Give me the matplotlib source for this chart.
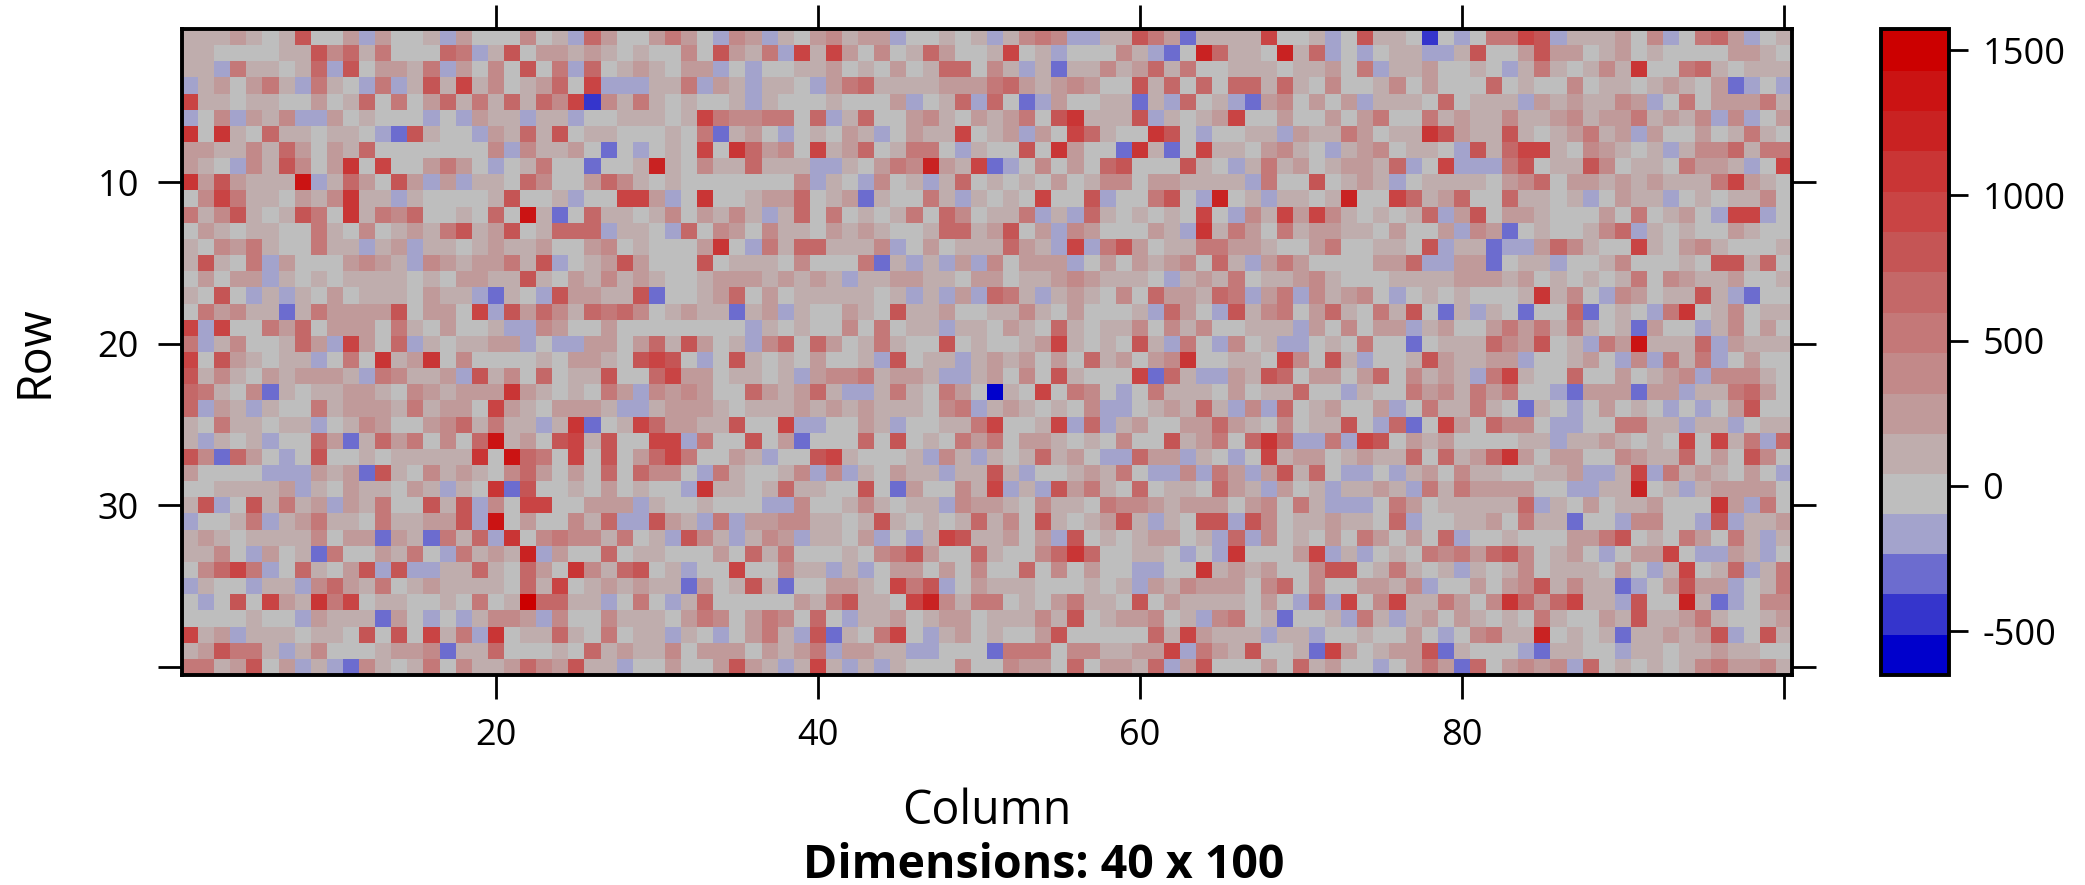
import numpy as np
import matplotlib
matplotlib.use('Agg')
import matplotlib.pyplot as plt
from matplotlib.colors import ListedColormap, BoundaryNorm

plt.rcParams['font.family'] = ['Open Sans', 'Noto Sans', 'DejaVu Sans']

# value of each colour band
band_values = {'d': -580, 'c': -445, 'b': -305, 'a': -165, '.': -27,
               '1': 110, '2': 250, '3': 390, '4': 530, '5': 670, '6': 810,
               '7': 945, '8': 1085, '9': 1225, 'A': 1365, 'B': 1505}

# one string per row, 100 cells, each character is one band above
rows = [
    "11121.16..2a2..1a2.." ".3.1a52..242.a32a1.2" "3122a..1.1a1343aa116" "42b11117..1a.611.c.a" ".4476a1112.3a.452a.1",
    "11....1163514...54a1" "6.22121.1..3.6214a71" "72.3.152..17.1a...31" "ab.9511.915a.a.11aa1" "6..2622.12.1....221.",
    "11a411.15a6.2214a2.3" ".6.4a5.121.22a.a..11" "2.1.2.155.31a1b11312" "514..111.112.4a112.." "1.a141.1318..451.111",
    "a12.241a41.a4a161713" ".125.7aaa114a21a11.a" "24511112224521232..6" "15.5.55151.3..13.2.." ".5.1..3.11.121.2ba.a",
    "711.11..2.15.4.25141" "51537c3141.1..1a1..." "1...2a.15a5.ba2..11b" "1a5.1ab23.2.2a111.5." "111a2121132a.4.22241",
    "a.3a213aa2.1...a.a21" "1a11a..111.1743344.5" "a15..231.2124.681116" "a1.127..2..2.24..412" "113112312241213a3a.2",
    "8.81.511.11.ab61..a2" "1516.11...1.4b12.a.1" ".21a.2117.12a2.751.." "86.a..11a21142.11862" "1161.12412a2..2.141.",
    "22113152.215.......3" "a3112.b.a.1.7.8523.7" "125.144.a1..6.82..b8" "1b.711.231.a123.11.a" "615771.321.1a1335144",
    "21.a3163.28.7..242.a" ".14..b..191.3115111a" "a1.2439217ba.3.2.56." "..61.a1412.12215a.7a" "aa46.1163.11.4221a.7",
    "8262111Aa152.62a2a11" ".53..2531.1.......3a" "1.a3.1a15.1.1.2.133." "221111a4..6.121a.111" "1.235.2212121114721.",
    ".37411.213811a1....1" "6..1a..772a.8..1225." "12b1..41a1.1.7..6a.." "46.a9.1a11.19..75125" "..511.1a.211a.1.113.",
    "41361.164.81435..1.5" ".A1b.511.13.2131a15." "4.1.14.53.114a1a51.1" ".1.7.a3172731.1.15a2" "6.221...2.4.12.a77a.",
    ".21.11..41.3.1214612" "6.1555a11.a5.32.311." "2121..155126.2a32..." "21a8142.412211.2..2a" "32b.1..135a1.1..21..",
    "1.3241..411a12a11.12" "112..23.1...28.a4155" "1113a.2.111521a7a462" ".1144221..24..11.6a1" "1baa2531..71.231...1",
    "161.4a2...2321a32122" "416a.1262...6.111.3." "..4b1a1a2a3.222a.2.2" "123.51a242....225aa2" "2b.11a..13...1.6615.",
    ".2.22a1.1.1111.1.221" "161.213121..12221212" "1a112211.22.11232111" ".a1214.11231...11112" "2212.1.1.14.32112..1",
    "1.6.a1a1.2.111.211ab" "1.a622116b..125.2.11" "111.1a1a2a541a121.3." "522154a24a3123.a.1.1" "...1813.a32.1161ab..",
    ".42311b1422226.22.7a" "625315453.1211b12a1." ".21.6112..1131.2...1" "a52.a6134.251.416.b1" "a1.b..5b.1.a48.13.11",
    "7a7..425.222.41.2..1" "aa32..2........a1.1." ".3.4.11a11.21.51.113" ".313..111a2.3.22a12." ".2424141.1b2..a13.2.",
    "4a13..152a72.5a1.112" "2a.aa22.25162.1a35.5" "2.141..6.1..1271.1.6" "1a4.a3.1aa.1.4..b.11" "15326.1a42A1115a2111",
    "7.621.11a.4.8128.3.." "..1.221.676.a.61.1.2" "..1a6.11a1212.2.512." "238..11.73.61a..1621" "122a..12.a3a414a.2..",
    "6131.212221a43112a61" "3.5.116..5722.11.1a2" "3341221aa12.3.61...7" "b51aa2165.22.25.3121" "a471..5..2.123a3331.",
    "541.3b1.11221.321222" "821.1.42a3232..52125" "1aa141.42.d1.7.43.a." "4111.2.115..a1..4231" "424..ab222b22a11452.",
    "5a21a1..4122214122.7" "21.2221aa12221.11121" "212111.34a121.1.3aa." "12151a3a5.12..2a.411" "41.b1.a.2.1.a.a.26..",
    "1.411.11a.132..23514" "11a18b.17522116..7aa" "..21a..1147..17a5a12" "..22521.3.116.a5b.72" ".533.aa..4411a11a.11",
    "1a1.1a..52b1524.3.5A" "12.6716..77a4..6.2b." "..5.6.1.424.221.1.3." ".6124.585aa4a76.212." "...11a1121.1.7.714a5",
    "63b52.a.6..1.111118." "A54.7.6.2574..21a..6" "71...1a31a1.1512.aa5" "22a1.a.7122.12115.51" "2582.22..32115.2.63.",
    "2....aaa212b61.3121." "352.2.5.533.a41..13a" "3a1.211a1161a..1214." "aa3a42a2615.aa.a12.3" "11..112aa17a4121.2.a",
    "..11112a1.211.21a1.8" "b6..1.2.1..a811.1511" "..6.b2..317a1a6241.5" ".11.521a2.1a1121a414" "2222..aa119.1a12222.",
    "16a.61412a214..616a3" ".77..222a1..1...aa3." ".131.11a3221.311.433" "21222.23.41aaa.42.11" "1115a1.2.112...82a4.",
    "a..14a12411.411226aA" ".2..315aa621a4a22331" "1.161.1.1513.61.1261" "a1.66a63.11211.5a..1" "12.411b..a33..a6a112",
    "121.11113.22b21b415a" "8.343314.1a631a132a1" "1.2a.a176112.2a6.1.1" "22.1a5a3.1.2.42.2.5a" "..1...2246.1.42.41a1",
    "113.a2.1b4..214.a412" "19a2..5.11...2.514.." ".1.3462..51..3585..1" "1.a.a8...27a1a.1.434" "2563.12.a.227.aa21a.",
    ".3574a.51.26a6aa1151" ".52.83156.1a..7..311" "a1a.22.2.3..5.3.2..a" "a..81212..366.141.1a" "1.13.111.2.a17.15a14",
    "a1..a11a35214.121111" ".517.121211b2.161b.." "221.746a.2111...1.1a" "213222.35.3..2213a.." "2.2361311ba.2622a.14",
    ".a.6.721847.11..1.4." "1B5511a.4.a15.....21" "4611.793144.1.2411.6" ".21111.2.a5a7.371142" ".38525711a6..91ba.33",
    "....1..a2111b2.a.a13" "32a3..3111.243.243.5" ".a112.122.111316.122" "3.1a34.1b..1a41a12.2" "1.1.41..21611241..12",
    "712a111.11.6.6.714a8" ".1151.4.11a1.a.241a6" "b1.47.a12.1..26....." "5172111a11a..1..2.a." "34119.1.1b112126a.61",
    "126441a13...1223b115" "...1.512113.222.2124" "a2211aa...b444.33112" "27a4216..1b72.1226b1" "...ab11..a11.11211..",
    "44126.2a1ab31.14.311" "2532611a..2..2621a17" "1a1a1...3..322.5.221" "5a26...2.512..a.242b" "5.2323a5.1.1.1342231",
]

band_colors = ['#0000CC', '#3535CC', '#6C6CCF', '#A3A3CC', '#BEBEBE', '#BFADAD',
               '#C09A9A', '#C28989', '#C47878', '#C46868', '#C55555', '#C94444',
               '#C93535', '#C92222', '#CB1313', '#CC0000']
band_edges = [-651, -512, -373, -234, -95, 40, 179, 318, 457, 596, 735, 874,
              1013, 1152, 1291, 1430, 1573]

x_ticks = [20, 40, 60, 80, 100]
x_labels = ['20', '40', '60', '80', '']
y_ticks = [10, 20, 30, 40]
y_labels = ['10', '20', '30', '']
key_ticks = [-500, 0, 500, 1000, 1500]
key_labels = ['-500', '0', '500', '1000', '1500']

z = np.array([[band_values[c] for c in r] for r in rows])
cmap = ListedColormap(band_colors)
norm = BoundaryNorm(band_edges, cmap.N)

W, H = 2085, 885
fig = plt.figure(figsize=(W / 100, H / 100), dpi=100)

ax = fig.add_axes([182 / W, 1 - 675 / H, 1610 / W, 646 / H])
im = ax.imshow(z, cmap=cmap, norm=norm, aspect='auto', interpolation='nearest',
               extent=(0.5, 100.5, 40.5, 0.5))
ax.set_xticks(x_ticks, x_labels)
ax.set_yticks(y_ticks, y_labels)
ax.tick_params(axis='both', length=17, width=2, labelsize=26, top=True,
               right=True, color='black')
ax.tick_params(axis='x', pad=14)
ax.tick_params(axis='y', pad=14)
for s in ax.spines.values():
    s.set_linewidth(2.8)

fig.text(987 / W, 1 - 811 / H, 'Column', ha='center', va='center', fontsize=33.5)
fig.text(35 / W, 1 - 352 / H, 'Row', ha='center', va='center', rotation=90, fontsize=33.5)
fig.text(1044 / W, 1 - 865 / H, 'Dimensions: 40 x 100', ha='center', va='center',
         fontsize=33.5, fontweight='bold')

cax = fig.add_axes([1881 / W, 1 - 675 / H, 68 / W, 646 / H])
cb = fig.colorbar(im, cax=cax, ticks=key_ticks, spacing='proportional')
cb.ax.set_yticklabels(key_labels)
cb.ax.tick_params(length=14, width=2, labelsize=26, pad=10)
cb.outline.set_linewidth(2.8)
cb.ax.minorticks_off()

fig.savefig('out.png', dpi=100)
